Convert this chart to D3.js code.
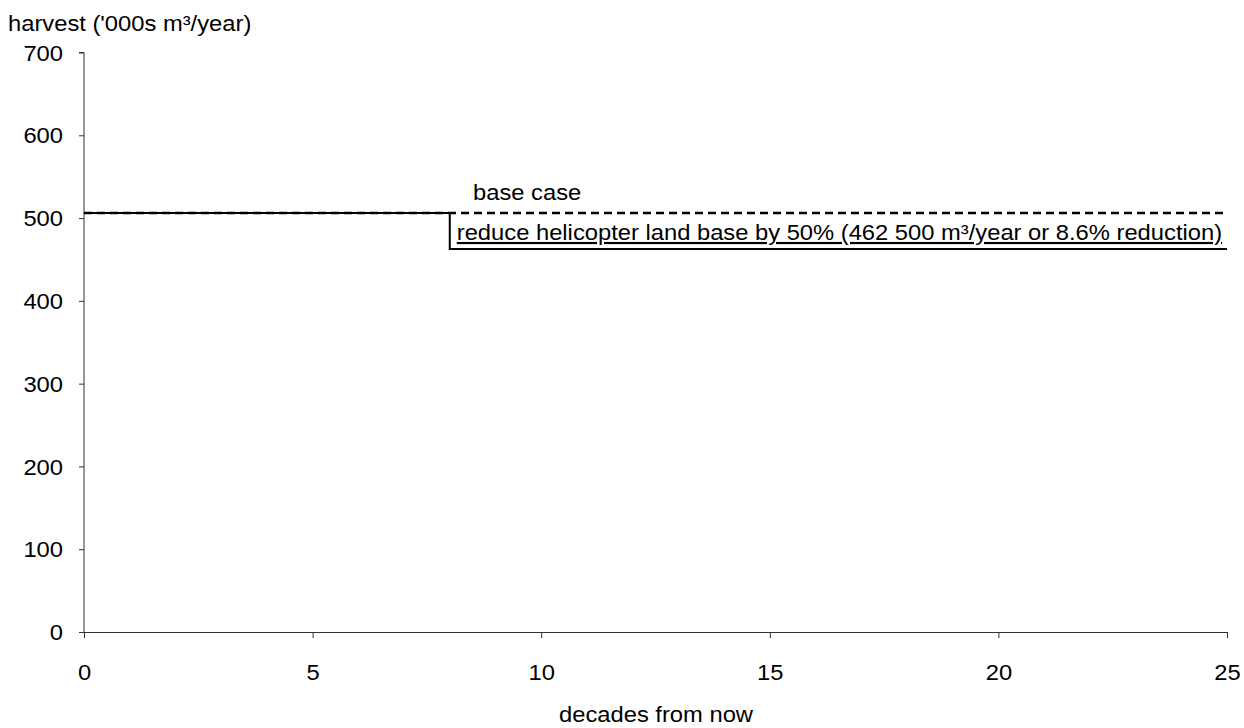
<!DOCTYPE html>
<html><head><meta charset="utf-8">
<script src="https://cdn.jsdelivr.net/npm/d3@7"></script>
<style>body{margin:0;background:#fff}svg{font-family:"Liberation Sans",Arial,sans-serif}</style>
</head><body><svg id="c" width="1244" height="728"></svg>
<script>
const decades = [0, 8, 8, 25];
const baseCase = [506, 506, 506, 506];
const reduced = [506, 506, 462.5, 462.5];
const xTicks = [0, 5, 10, 15, 20, 25];
const yTicks = [0, 100, 200, 300, 400, 500, 600, 700];
const labels = ["base case", "reduce helicopter land base by 50% (462 500 m³/year or 8.6% reduction)"];

const FS = 22, SX = 1.08;
const svg = d3.select("#c");
const x = d3.scaleLinear().domain([0, 25]).range([84, 1227]);
const y = d3.scaleLinear().domain([0, 700]).range([632, 52.5]);

const xa = svg.append("g").attr("transform", `translate(0,${y(0)})`)
  .call(d3.axisBottom(x).tickValues(xTicks).tickSize(6).tickPadding(28).tickFormat(d3.format("d")));
const ya = svg.append("g").attr("transform", `translate(${x(0)},0)`)
  .call(d3.axisLeft(y).tickValues(yTicks).tickSize(5).tickPadding(16).tickFormat(d3.format("d")));
[xa, ya].forEach(a => {
  a.selectAll("path,line").attr("stroke", "#333").attr("stroke-width", 1);
  a.selectAll("text").attr("font-size", FS).attr("fill", "#000").attr("font-family", "Liberation Sans, Arial, sans-serif");
});
ya.select(".domain").attr("d", `M-5,${y(700)}H0V${y(0)}`);
ya.selectAll("text").attr("dy", "0.35em").attr("x", 0).attr("transform", `translate(-21,0) scale(${SX},1)`);
xa.selectAll("text").attr("dy", null).attr("y", 0).attr("transform", `translate(0,48) scale(${SX},1)`);

const line = d3.line().x((d, i) => x(decades[i])).y(d => y(d));
svg.append("path").datum(reduced).attr("d", line).attr("fill", "none").attr("stroke", "#000").attr("stroke-width", 2);
svg.append("path").datum(baseCase).attr("d", line).attr("fill", "none").attr("stroke", "#000").attr("stroke-width", 2.5).attr("stroke-dasharray", "8,5");

function label(px, py, str, anchor, deco) {
  const t = svg.append("text").attr("transform", `translate(${px},${py}) scale(${SX},1)`)
    .attr("font-size", FS).attr("text-anchor", anchor || "start").text(str);
  if (deco) t.attr("text-decoration", deco);
  return t;
}
label(473, 200, labels[0]);
label(x(8) + 7, 240, labels[1], "start", "underline");
label(8, 31, "harvest ('000s m³/year)");
label(656, 722, "decades from now", "middle");
</script></body></html>
